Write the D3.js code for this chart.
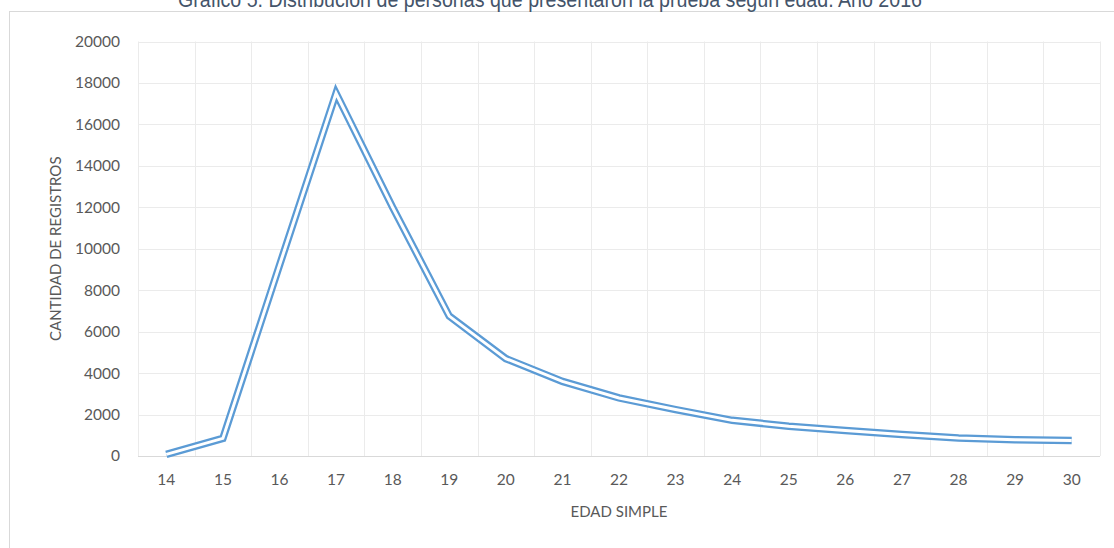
<!DOCTYPE html>
<html>
<head>
<meta charset="utf-8">
<script src="https://cdn.jsdelivr.net/npm/d3@7"></script>
<style>
  html, body { margin: 0; padding: 0; background: #fff; }
  svg { display: block; }
</style>
</head>
<body>
<svg id="chart" width="1114" height="548"></svg>
<script>
// Registros por edad simple
const edades = ["14","15","16","17","18","19","20","21","22","23","24","25","26","27","28","29","30"];
const registros = [80, 850, 9200, 17500, 12000, 6750, 4700, 3600, 2800, 2240, 1720, 1440, 1230, 1040, 870, 790, 750];
const yTicks = [0, 2000, 4000, 6000, 8000, 10000, 12000, 14000, 16000, 18000, 20000];

const titulo = "Gráfico 5. Distribución de personas que presentaron la prueba según edad. Año 2016";
const tituloY = "CANTIDAD DE REGISTROS";
const tituloX = "EDAD SIMPLE";

const svg = d3.select("#chart");
const plot = { left: 138, right: 1100, top: 41.5, bottom: 456 };
const tickFont = "Lato, 'Open Sans', sans-serif";

// chart frame
svg.append("rect")
  .attr("x", 9.5).attr("y", 11.5)
  .attr("width", 1130).attr("height", 560)
  .attr("fill", "#fff").attr("stroke", "#d9d9d9").attr("stroke-width", 1);

const x = d3.scaleBand().domain(edades).range([plot.left, plot.right]).padding(0);
const y = d3.scaleLinear().domain([0, 20000]).range([plot.bottom, plot.top]);

// horizontal gridlines
svg.append("g").selectAll("line").data(yTicks.filter(d => d > 0)).join("line")
  .attr("x1", plot.left).attr("x2", plot.right)
  .attr("y1", d => Math.round(y(d)) + 0.5).attr("y2", d => Math.round(y(d)) + 0.5)
  .attr("stroke", "#ebebeb").attr("stroke-width", 1);

// vertical gridlines at category boundaries
const bounds = edades.map(e => x(e)).concat([plot.right]);
svg.append("g").selectAll("line").data(bounds).join("line")
  .attr("x1", d => Math.round(d) + 0.5).attr("x2", d => Math.round(d) + 0.5)
  .attr("y1", plot.top).attr("y2", plot.bottom)
  .attr("stroke", "#ebebeb").attr("stroke-width", 1);

// category axis line
svg.append("line")
  .attr("x1", plot.left).attr("x2", plot.right)
  .attr("y1", Math.round(plot.bottom) + 0.5).attr("y2", Math.round(plot.bottom) + 0.5)
  .attr("stroke", "#d9d9d9").attr("stroke-width", 1);

// y axis tick labels
const yAxis = d3.axisLeft(y).tickValues(yTicks).tickSize(0).tickPadding(0).tickFormat(d3.format("d"));
const gy = svg.append("g").attr("transform", `translate(${120},0)`).call(yAxis);
gy.select(".domain").remove();
gy.selectAll("text")
  .attr("font-family", tickFont).attr("font-size", 15.5).attr("fill", "#595959");

// x axis tick labels
const xAxis = d3.axisBottom(x).tickSize(0).tickPadding(0);
const gx = svg.append("g").attr("transform", `translate(0,${plot.bottom + 18})`).call(xAxis);
gx.select(".domain").remove();
gx.selectAll("text")
  .attr("font-family", tickFont).attr("font-size", 15.5).attr("fill", "#595959");

// axis titles
svg.append("text")
  .attr("x", (plot.left + plot.right) / 2).attr("y", 517)
  .attr("text-anchor", "middle")
  .attr("font-family", tickFont).attr("font-size", 15).attr("fill", "#595959")
  .text(tituloX);

svg.append("text")
  .attr("transform", `translate(61,${(plot.top + plot.bottom) / 2}) rotate(-90)`)
  .attr("text-anchor", "middle")
  .attr("font-family", tickFont).attr("font-size", 15).attr("fill", "#595959")
  .text(tituloY);

// chart title, sitting above the frame's top edge
svg.append("text")
  .attr("x", 550).attr("y", 7)
  .attr("text-anchor", "middle")
  .attr("font-family", "'Liberation Sans Narrow', 'Arial Narrow', 'Liberation Sans', sans-serif")
  .attr("font-size", 22).attr("fill", "#44546a")
  .attr("textLength", 744).attr("lengthAdjust", "spacingAndGlyphs")
  .text(titulo);

// double-stroke series line
const line = d3.line()
  .x((d, i) => x(edades[i]) + x.bandwidth() / 2)
  .y(d => y(d));

svg.append("path").datum(registros)
  .attr("d", line).attr("fill", "none")
  .attr("stroke", "#5b9bd5").attr("stroke-width", 7.5)
  .attr("stroke-linejoin", "miter").attr("stroke-miterlimit", 10);
svg.append("path").datum(registros)
  .attr("d", line).attr("fill", "none")
  .attr("stroke", "#fff").attr("stroke-width", 3)
  .attr("stroke-linejoin", "miter").attr("stroke-miterlimit", 10);
</script>
</body>
</html>
